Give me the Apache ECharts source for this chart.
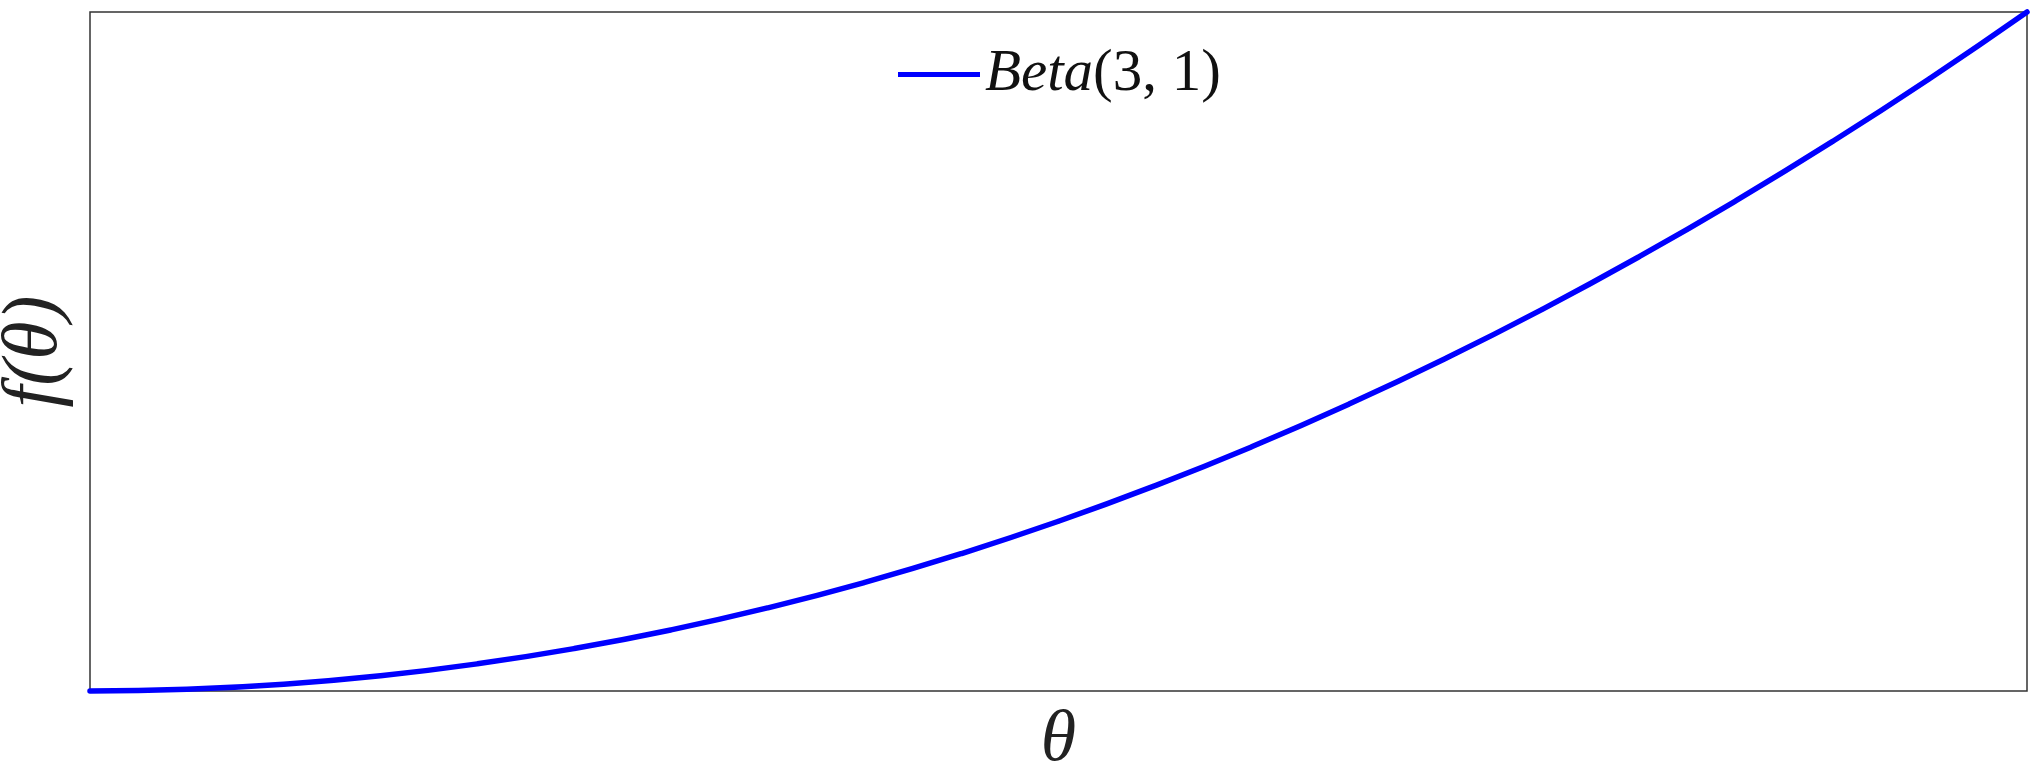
<!DOCTYPE html>
<html><head><meta charset="utf-8">
<script src="https://cdn.jsdelivr.net/npm/echarts@6/dist/echarts.min.js"></script>
<style>html,body{margin:0;padding:0;background:#fff}#c{width:2040px;height:782px}</style>
</head><body><div id="c"></div>
<script>
const thetaValues = [0,0.05,0.1,0.15,0.2,0.25,0.3,0.35,0.4,0.45,0.5,0.55,0.6,0.65,0.7,0.75,0.8,0.85,0.9,0.95,1];
const densityValues = [0,0.0075,0.03,0.0675,0.12,0.1875,0.27,0.3675,0.48,0.6075,0.75,0.9075,1.08,1.2675,1.47,1.6875,1.92,2.1675,2.43,2.7075,3];
const seriesName = 'Beta(3,1)';

const chart = echarts.init(document.getElementById('c'), null, {renderer:'canvas'});
const serif = '"Liberation Serif", "DejaVu Serif", serif';
chart.setOption({
  animation:false,
  backgroundColor:'#fff',
  grid:{left:90,right:13,top:12,bottom:91,outerBoundsMode:'none',containLabel:false,show:true,borderColor:'#333',borderWidth:1.5,backgroundColor:'transparent'},
  legend:{
    left:893, top:40, itemWidth:82, itemHeight:5, itemGap:10, icon:'rect',
    data:[seriesName],
    formatter:function(){return '{i|Beta}{n|(3, 1)}';},
    textStyle:{rich:{
      i:{fontFamily:serif,fontStyle:'italic',fontSize:59,color:'#111'},
      n:{fontFamily:serif,fontSize:59,color:'#111'}
    }}
  },
  xAxis:{type:'value',min:0,max:1,name:'θ',nameLocation:'middle',nameGap:14,
    nameTextStyle:{fontFamily:serif,fontStyle:'italic',fontSize:72,color:'#222'},
    axisLine:{show:false},axisTick:{show:false},axisLabel:{show:false},splitLine:{show:false}},
  yAxis:{type:'value',min:0,max:3,name:'f(θ)',nameLocation:'middle',nameGap:16,nameRotate:90,
    nameTextStyle:{fontFamily:serif,fontStyle:'italic',fontSize:78,color:'#222'},
    axisLine:{show:false},axisTick:{show:false},axisLabel:{show:false},splitLine:{show:false}},
  series:[{name:seriesName,type:'line',smooth:true,showSymbol:false,clip:false,
    data:thetaValues.map((t,i)=>[t,densityValues[i]]),
    lineStyle:{color:'#0000ff',width:5.5,cap:'round'},itemStyle:{color:'#0000ff'}}]
});
</script></body></html>
